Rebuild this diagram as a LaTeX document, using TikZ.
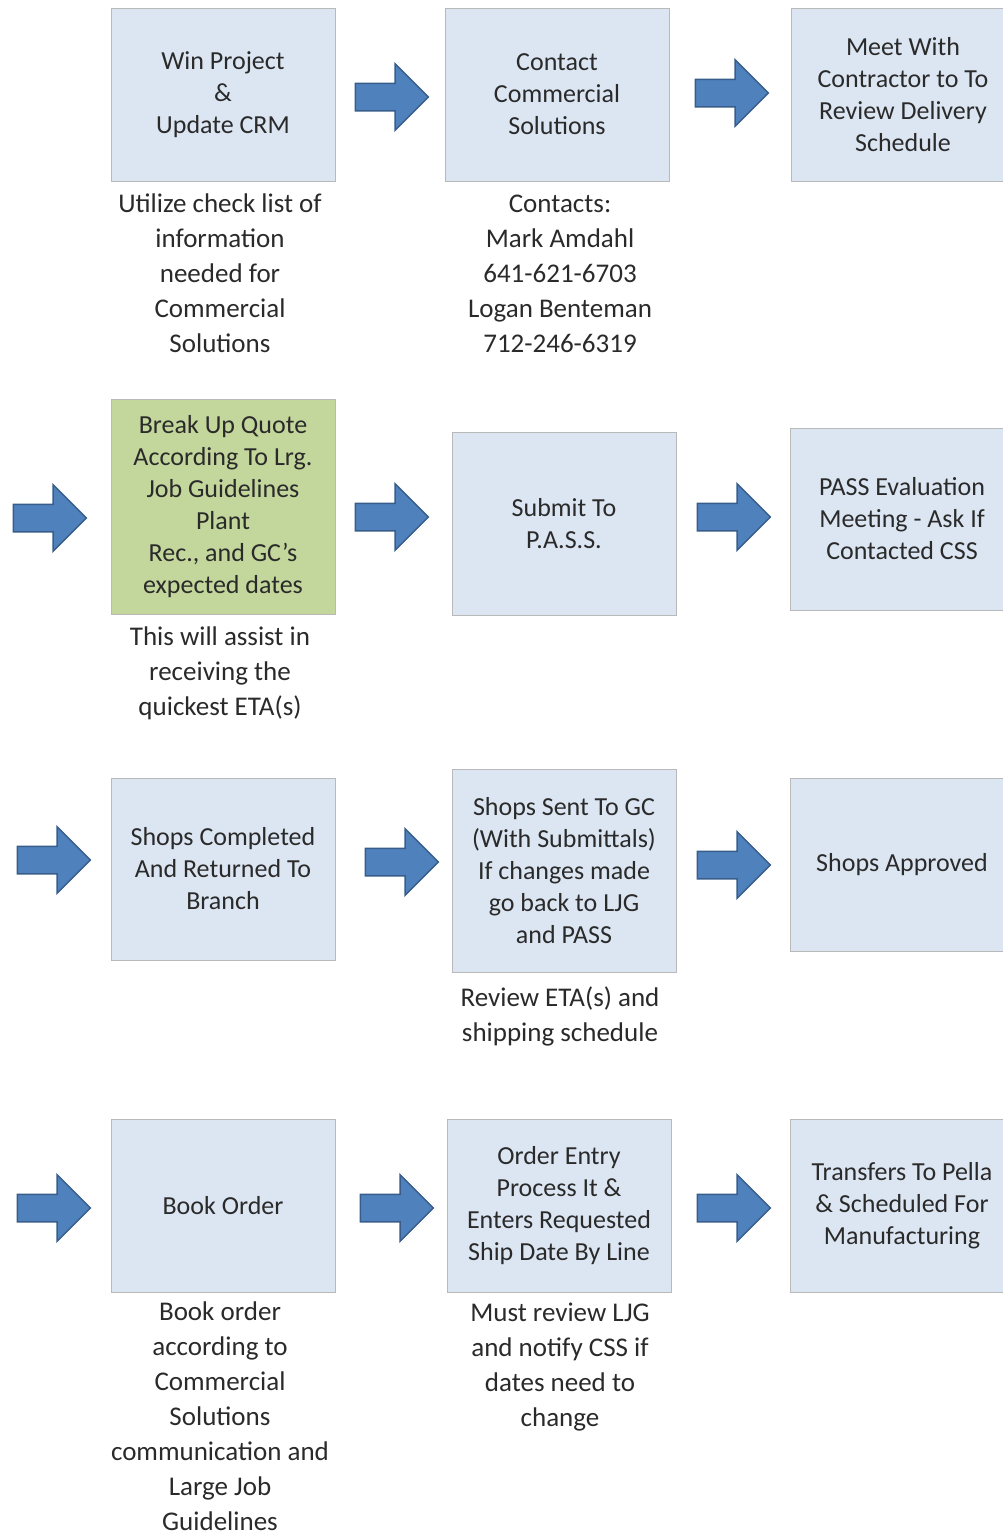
\documentclass[tikz,border=0pt]{standalone}
\usepackage{fontspec}
\setmainfont{Carlito}
\usetikzlibrary{shapes.arrows}

\definecolor{boxblue}{HTML}{DCE6F2}
\definecolor{boxgreen}{HTML}{C3D69B}
\definecolor{arrowblue}{HTML}{4F81BD}
\definecolor{arrowedge}{HTML}{385D8A}
\definecolor{txtgray}{HTML}{2A2A2A}

\tikzset{
	stepbox/.style={draw=gray!55, line width=1pt, fill=boxblue, text=txtgray,
		minimum width=224pt, minimum height=173pt, align=center, inner sep=0pt,
		font=\fontsize{26}{32}\selectfont},
	note/.style={text=txtgray, align=center, inner sep=0pt,
		font=\fontsize{27}{35}\selectfont},
	flow/.style={single arrow, draw=arrowedge, line width=1.5pt, fill=arrowblue,
		minimum height=73pt, inner xsep=0pt, inner ysep=13pt,
		single arrow head extend=19.5pt, single arrow head indent=0pt}
}

\begin{document}
\begin{tikzpicture}[x=1pt, y=-1pt]
		\useasboundingbox (0,0) rectangle (1003,1537);
		% row 1
		\node[stepbox] (win) at (223,94.5) {Win Project\\\&\\Update CRM};
		\node[stepbox] (contact) at (557,94.5) {Contact\\Commercial\\Solutions};
		\node[stepbox] (meet) at (903,94.5) {Meet With\\Contractor to To\\Review Delivery\\Schedule};
		\node[note] (winnote) at (220,273.5) {Utilize check list of\\information\\needed for\\Commercial\\Solutions};
		\node[note] (contactnote) at (560,273.5) {Contacts:\\Mark Amdahl\\641-621-6703\\Logan Benteman\\712-246-6319};
		\node[flow] (a11) at (385,97) {};
		\node[flow] (a12) at (725,93) {};
		% row 2
		\node[flow] (a20) at (43,518) {};
		\node[stepbox, fill=boxgreen, minimum height=215pt] (breakup) at (223,506.5) {Break Up Quote\\According To Lrg.\\Job Guidelines\\Plant\\Rec., and GC's\\expected dates};
		\node[flow] (a21) at (385,517) {};
		\node[stepbox, minimum height=183pt] (submit) at (564,523.5) {Submit To\\P.A.S.S.};
		\node[flow] (a22) at (727,517) {};
		\node[stepbox, minimum height=182pt] (passeval) at (902,519) {PASS Evaluation\\Meeting - Ask If\\Contacted CSS};
		\node[note] (breakupnote) at (220,673.5) {This will assist in\\receiving the\\quickest ETA(s)};
		% row 3
		\node[flow] (a30) at (47,860) {};
		\node[stepbox, minimum height=182pt] (shopsdone) at (223,869) {Shops Completed\\And Returned To\\Branch};
		\node[flow] (a31) at (395,862) {};
		\node[stepbox, minimum height=203pt] (shopssent) at (564,870.5) {Shops Sent To GC\\(With Submittals)\\If changes made\\go back to LJG\\and PASS};
		\node[flow] (a32) at (727,865) {};
		\node[stepbox] (approved) at (902,864.5) {Shops Approved};
		\node[note] (shopsnote) at (560,1016.5) {Review ETA(s) and\\shipping schedule};
		% row 4
		\node[flow] (a40) at (47,1208) {};
		\node[stepbox] (book) at (223,1205.5) {Book Order};
		\node[flow] (a41) at (390,1208) {};
		\node[stepbox] (entry) at (559,1205.5) {Order Entry\\Process  It \&\\Enters Requested\\Ship Date By Line};
		\node[flow] (a42) at (727,1208) {};
		\node[stepbox] (transfer) at (902,1205.5) {Transfers To Pella\\\& Scheduled For\\Manufacturing};
		\node[note] (booknote) at (220,1416) {Book order\\according to\\Commercial\\Solutions\\communication and\\Large Job\\Guidelines};
		\node[note] (entrynote) at (560,1367) {Must review LJG\\and notify CSS if\\dates need to\\change};
	\end{tikzpicture}
\end{document}
